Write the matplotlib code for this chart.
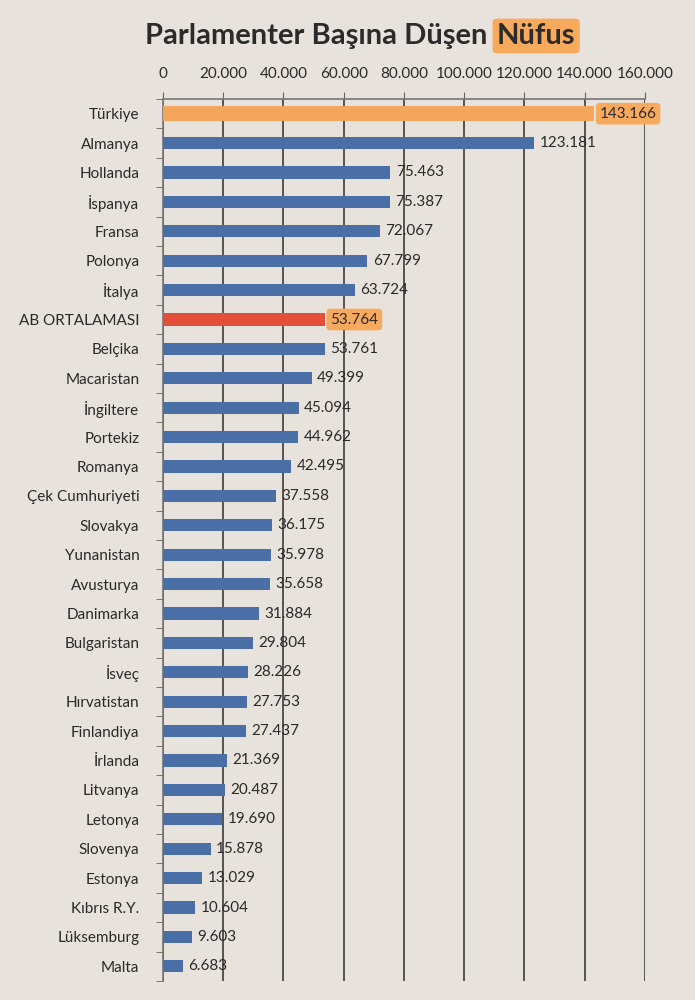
import matplotlib.pyplot as plt
import numpy as np

# Data
countries = ['Türkiye', 'Almanya', 'Hollanda', 'İspanya', 'Fransa', 'Polonya', 'İtalya',
             'AB ORTALAMASI', 'Belçika', 'Macaristan', 'İngiltere', 'Portekiz', 'Romanya',
             'Çek Cumhuriyeti', 'Slovakya', 'Yunanistan', 'Avusturya', 'Danimarka',
             'Bulgaristan', 'İsveç', 'Hırvatistan', 'Finlandiya', 'İrlanda', 'Litvanya',
             'Letonya', 'Slovenya', 'Estonya', 'Kıbrıs R.Y.', 'Lüksemburg', 'Malta']
values = [143166, 123181, 75463, 75387, 72067, 67799, 63724,
          53764, 53761, 49399, 45094, 44962, 42495,
          37558, 36175, 35978, 35658, 31884,
          29804, 28226, 27753, 27437, 21369, 20487,
          19690, 15878, 13029, 10604, 9603, 6683]
x_ticks = [0, 20000, 40000, 60000, 80000, 100000, 120000, 140000, 160000]

plt.rcParams['font.family'] = ['Lato', 'DejaVu Sans']

bg = '#e7e2db'
blue = '#4a6ea6'
orange = '#f4a65c'
red = '#e2503a'
highlight = '#f7a95e'

fig = plt.figure(figsize=(6.95, 10), dpi=100, facecolor=bg)
ax = fig.add_axes([0.2345, 0.019, 0.6935, 0.882], facecolor=bg)

colors = [blue] * len(countries)
colors[0] = orange
colors[countries.index('AB ORTALAMASI')] = red
heights = [0.42] * len(countries)
heights[0] = 0.5

y = np.arange(len(countries))
ax.barh(y, values, height=heights, color=colors, zorder=3)

def fmt(v):
    return f'{v:,}'.replace(',', '.')

for i, v in enumerate(values):
    if i == 0 or countries[i] == 'AB ORTALAMASI':
        ax.text(v + 1800, i, fmt(v), va='center', ha='left', fontsize=11,
                color='#2a2a2a', zorder=4,
                bbox=dict(boxstyle='round,pad=0.25', fc=highlight, ec='none'))
    else:
        ax.text(v + 1800, i, fmt(v), va='center', ha='left', fontsize=11,
                color='#2a2a2a', zorder=4)

ax.set_xlim(0, 160000)
ax.set_ylim(len(countries) - 0.5, -0.5)
ax.xaxis.tick_top()
ax.set_xticks(x_ticks)
ax.set_xticklabels([fmt(t) for t in x_ticks], fontsize=11, color='#2a2a2a')
ax.tick_params(axis='x', length=5, color='#666666', pad=8)
ax.grid(axis='x', color='#3c3c3c', linewidth=1.2, zorder=1)

ax.set_yticks(y)
ax.set_yticklabels(countries, fontsize=11, color='#2a2a2a')
ax.set_yticks(np.arange(-0.5, len(countries), 1), minor=True)
ax.tick_params(axis='y', which='major', length=0, pad=17)
ax.tick_params(axis='y', which='minor', length=5, color='#666666')

for s in ['right', 'bottom']:
    ax.spines[s].set_visible(False)
for s in ['left', 'top']:
    ax.spines[s].set_color('#777777')
    ax.spines[s].set_linewidth(1.2)

# Title with highlighted last word
fig.text(0.711, 0.964, 'Parlamenter Başına Düşen ', ha='right', va='center',
         fontsize=21, fontweight='bold', color='#2b2b2b')
fig.text(0.715, 0.964, 'Nüfus', ha='left', va='center',
         fontsize=21, fontweight='bold', color='#2b2b2b',
         bbox=dict(boxstyle='round,pad=0.15', fc=highlight, ec='none'))

fig.savefig('out.png', dpi=100, facecolor=bg)
